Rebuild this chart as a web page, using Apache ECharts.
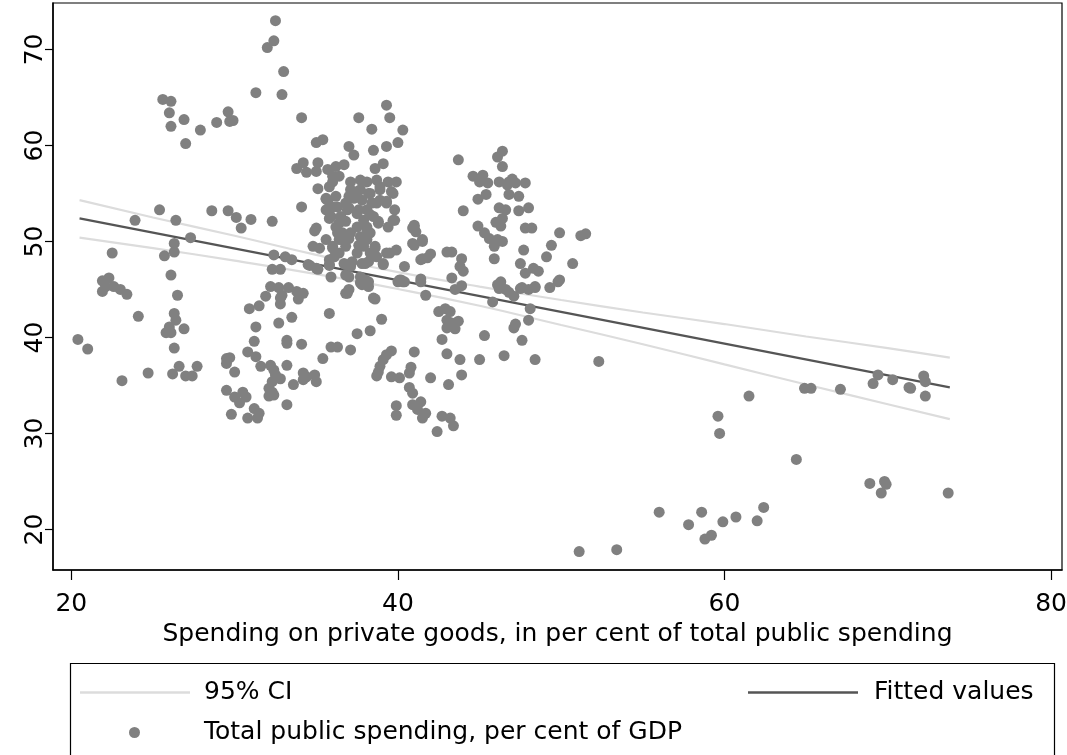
<!DOCTYPE html>
<html>
<head>
<meta charset="utf-8">
<script src="https://cdn.jsdelivr.net/npm/echarts@6/dist/echarts.min.js"></script>
<style>
html,body{margin:0;padding:0;background:#fff;}
#chart{width:1067px;height:755px;}
</style>
</head>
<body>
<div id="chart"></div>
<script>
// ---- data ----
const xTicks = [20, 40, 60, 80];
const yTicks = [20, 30, 40, 50, 60, 70];

const fitX = [20.5, 73.8];
const fitY = [52.4, 34.8];

const ciX     = [20.5, 25, 30, 35, 40, 45, 50, 55, 60, 65, 70, 73.8];
const ciUpper = [54.3, 52.5, 50.6, 48.6, 46.8, 45.3, 43.9, 42.6, 41.4, 40.1, 38.9, 37.9];
const ciLower = [50.4, 49.3, 48.0, 46.6, 45.05, 43.3, 41.3, 39.3, 37.2, 35.1, 33.05, 31.5];

const pointsLeft = [
 [20.4,39.8],[21.0,38.8],[23.1,35.5],[24.7,36.3],[24.1,42.2],[22.5,48.8],
 [21.9,45.9],[22.3,46.2],[22.1,45.3],[21.9,44.8],[22.6,45.3],[23.0,45.0],[23.4,44.5],
 [23.9,52.2],[25.4,53.3],[26.4,52.2],[27.3,50.4],[26.3,49.8],[26.3,48.9],[25.7,48.5],
 [26.1,46.5],[26.5,44.4],[26.3,42.5],[26.4,41.8],[25.8,40.5],[26.1,40.5],[26.0,41.1],[26.9,40.9],
 [26.3,38.9],[26.6,37.0],[26.2,36.2],[27.0,36.0],[27.4,36.0],[27.7,37.0]
];
const pointsHigh = [
 [25.6,64.8],[26.1,64.6],[26.0,63.4],[26.1,62.0],[26.9,62.7],[27.0,60.2],[27.9,61.6],[28.9,62.4],
 [29.6,63.5],[29.7,62.5],[29.9,62.6],[31.3,65.5],[32.0,70.2],[32.4,70.9],[32.5,73.0],[33.0,67.7],
 [32.9,65.3],[34.1,62.9],[35.0,60.3],[35.4,60.6]
];
const pointsMidLeft = [
 [28.6,53.2],[29.6,53.2],[30.1,52.5],[30.4,51.4],[31.0,52.3],[32.3,52.1],[34.1,53.6],[34.9,51.1],
 [32.4,48.6],[33.1,48.4],[33.5,48.1],[32.3,47.1],[32.8,47.1],[34.6,47.5],[35.1,47.1],[35.8,47.5],
 [32.2,45.3],[32.7,45.2],[33.3,45.2],[33.8,44.8],[34.2,44.6],[31.9,44.3],[32.9,44.4],[32.8,44.1],
 [32.8,43.5],[33.9,44.0]
];
const pointsLowLeft = [
 [30.9,43.0],[31.5,43.3],[31.3,41.1],[32.7,41.5],[33.5,42.1],[35.8,42.5],[35.9,39.0],[36.3,39.0],
 [31.2,39.6],[33.2,39.7],[33.2,39.4],[34.1,39.3],[35.4,37.8],
 [29.5,37.8],[29.7,37.9],[29.5,37.3],[30.8,38.5],[31.3,38.0],[30.0,36.4],[31.6,37.0],[32.2,37.1],
 [32.4,36.6],[32.5,36.1],[32.8,35.7],[32.3,35.4],[33.2,37.1],
 [34.2,36.3],[34.4,35.9],[34.2,35.6],[34.9,36.1],[35.0,35.4],
 [32.1,34.7],[32.3,34.3],[32.1,33.9],[32.4,34.0],[33.6,35.1],
 [29.5,34.5],[30.0,33.8],[30.5,34.3],[30.7,33.8],[30.3,33.2],[29.8,32.0],[30.8,31.6],[31.2,32.6],
 [31.5,32.1],[31.4,31.6],[33.2,33.0]
];
const pointsCluster = [
 [33.8,57.6],[34.2,58.2],[35.1,58.2],[34.4,57.2],[35.1,55.5],[35.6,54.4],
 [39.3,64.2],[39.5,62.9],[37.6,62.9],[38.4,61.7],[40.3,61.6],[40.0,60.3],[39.3,59.9],[38.5,59.5],
 [37.0,59.9],[37.3,59.0],[39.1,58.1],[38.6,57.6],
 [35.7,57.5],[36.2,57.8],[36.7,58.0],[36.0,56.8],[35.8,55.7],[35.7,54.3],[35.6,53.3],[35.9,52.6],
 [36.2,51.5],[36.6,50.9],[36.8,49.5],[36.4,48.8],[36.7,47.7],[37.1,47.4],[37.0,46.3],[36.9,44.6],
 [36.0,49.5],[35.2,49.3],[34.8,49.5],[35.6,50.2],[36.1,48.4],
 [37.1,56.2],[37.7,56.4],[38.1,56.2],[38.7,56.4],[39.4,56.2],[39.9,56.2],[38.9,55.7],[38.3,55.0],
 [37.5,55.2],[37.0,54.7],[37.8,54.3],[38.4,54.0],[38.9,54.3],[39.3,54.0],[39.7,55.0],[39.8,53.3],
 [36.9,53.3],[37.5,52.9],[38.1,53.3],[38.5,52.6],[37.9,52.2],[37.5,51.5],[38.1,51.2],[38.8,51.9],
 [39.4,51.5],[39.8,52.2],[38.3,50.9],[37.7,50.5],[37.9,49.5],[38.6,49.5],[37.5,48.8],[38.3,48.8],
 [38.0,47.7],[38.7,48.4],[39.5,48.8],[39.9,49.1],[39.1,47.7],[37.7,46.3],[38.2,45.8],[37.8,45.5],
 [35.8,48.1],[38.5,44.1],
 [36.3,53.6],[36.5,52.6],[36.8,52.1],[36.3,50.9],[37.1,50.9],[36.4,50.2],
 [35.0,57.3],[36.4,56.8],[36.0,56.2],
 [37.7,55.4],[37.1,55.4],[38.2,55.0],[38.9,55.4],[39.6,55.2],[35.6,54.5],[36.2,54.7],[36.8,54.0],
 [37.3,54.5],[38.7,54.0],[39.3,54.2],[36.0,53.6],[35.8,52.4],[37.0,53.5],[37.6,53.3],[38.3,52.8],
 [38.8,52.1],[39.7,52.2],[41.0,51.7],[35.0,51.4],[36.4,51.9],[38.1,51.5],
 [36.0,49.3],[36.6,50.2],[37.0,50.3],[37.6,49.6],[38.1,50.2],[38.6,49.3],[39.3,48.8],
 [40.9,51.4],[41.0,49.6],[41.5,50.2],[41.8,48.3],[41.4,48.1],
 [34.5,47.6],[35.0,47.2],[35.8,47.6],[35.9,46.3],[36.8,47.6],[36.8,46.5],[37.2,47.9],[37.8,47.7],
 [38.2,47.9],[39.1,47.6],[37.7,45.7],[38.0,46.0],[38.2,45.3],[40.4,47.4],[40.1,46.0],[40.4,45.8],
 [41.4,46.1],[41.7,44.4]
];
const pointsMidLow = [
 [37.1,38.7],[37.5,40.4],[38.3,40.7],[39.0,41.9],[36.8,44.6],[37.0,45.0],[38.6,44.0],[40.0,45.8],
 [40.3,45.8],[41.4,45.8],
 [42.5,42.7],[42.9,43.0],[43.2,42.7],[43.0,41.8],[43.3,41.5],[43.7,41.7],[43.0,41.0],[43.5,40.9],
 [42.7,39.8],[41.0,38.5],[43.0,38.3],[43.8,37.7],[43.9,36.1],[43.1,35.1],[42.0,35.8],
 [39.6,38.6],[39.3,38.2],[39.1,37.7],[38.9,37.0],[38.8,36.4],[38.7,36.0],[39.6,35.9],[40.1,35.8],
 [40.8,36.9],[40.7,36.3],[40.7,34.8],[40.9,34.2],[39.9,32.9],[39.9,31.9],[40.9,33.0],[41.4,33.3],
 [41.2,32.5],[41.7,32.1],[41.5,31.6],[42.7,31.8],[43.2,31.6],[43.4,30.8],[42.4,30.2],
 [41.0,51.5],[41.1,51.0],[40.9,49.8],[41.5,50.0],[41.5,48.2],[42.0,48.7],[40.2,46.0],
 [43.0,48.9],[43.3,48.9],[43.9,48.2],[43.8,47.4],[44.0,46.9],[43.3,46.2],[43.9,45.4],[43.5,45.0]
];
const pointsRightCluster = [
 [43.7,58.5],[44.0,53.2],[44.6,56.8],[45.2,56.9],[45.5,56.1],[45.0,56.2],[44.9,54.4],[45.4,54.9],
 [46.1,58.8],[46.4,59.4],[46.4,57.8],[46.2,56.2],[46.8,56.2],[47.2,56.1],[47.8,56.1],[46.8,54.9],
 [47.4,54.7],[47.0,56.5],[46.7,55.9],
 [46.2,53.5],[46.6,53.3],[47.4,53.2],[48.0,53.5],[46.0,52.0],[46.4,52.4],[46.3,51.6],[47.8,51.4],
 [48.2,51.4],
 [44.9,51.6],[45.3,50.9],[45.6,50.3],[46.1,50.2],[46.4,50.0],[45.9,49.5],[45.9,48.2],[47.7,49.1],
 [47.5,47.7],[47.8,46.7],[48.3,47.2],[48.6,46.9],[49.1,48.4],[49.4,49.6],[49.9,50.9],[46.3,45.8],
 [46.2,45.1],[46.8,44.7],[48.4,45.3],[49.3,45.2],[49.9,46.0],[50.7,47.7],[51.2,50.6],[51.5,50.8],
 [47.6,45.2],[48.0,45.0],
 [45.8,43.7],[45.3,40.2],[46.5,38.1],[45.0,37.7],[46.1,45.5],[46.6,45.0],[47.1,44.3],[47.5,45.1],
 [48.4,45.2],[49.8,45.8],[48.1,43.0],[48.0,41.8],[47.2,41.4],[47.1,41.0],[47.6,39.7],[48.4,37.7],
 [52.3,37.5]
];
const pointsFarRight = [
 [61.5,33.9],[59.6,31.8],[59.7,30.0],[64.4,27.3],[64.9,34.7],[65.3,34.7],[67.1,34.6],[69.1,35.2],
 [69.4,36.1],[70.3,35.6],[71.4,34.7],[71.3,34.8],[72.2,36.0],[72.3,35.4],[72.3,33.9],[68.9,24.8],
 [69.8,25.0],[69.9,24.7],[69.6,23.8],[73.7,23.8],[56.0,21.8],[57.8,20.5],[58.6,21.8],[58.8,19.0],
 [59.2,19.4],[59.9,20.8],[60.7,21.3],[62.0,20.9],[62.4,22.3],[51.1,17.7],[53.4,17.9]
];

// ---- build series ----
const allPoints = [].concat(pointsLeft, pointsHigh, pointsMidLeft, pointsLowLeft,
  pointsCluster, pointsMidLow, pointsRightCluster, pointsFarRight);
const upperData = ciX.map((x, i) => [x, ciUpper[i]]);
const lowerData = ciX.map((x, i) => [x, ciLower[i]]);
const fitData = fitX.map((x, i) => [x, fitY[i]]);

const FONT = "'DejaVu Sans', 'Liberation Sans', Arial, sans-serif";
const FS = 25;
const NAME_CI = '95% CI';
const NAME_FIT = 'Fitted values';
const NAME_PTS = 'Total public spending, per cent of GDP';

const chart = echarts.init(document.getElementById('chart'), null, {renderer: 'canvas'});
chart.setOption({
  animation: false,
  backgroundColor: '#ffffff',
  textStyle: {fontFamily: FONT},
  grid: {
    left: 53, right: 5, top: 3, bottom: 185,
    containLabel: false, outerBoundsMode: 'none',
    show: true, borderColor: '#000', borderWidth: 1.2, backgroundColor: '#fff'
  },
  xAxis: {
    type: 'value', min: 18.875, max: 80.67,
    splitLine: {show: false},
    axisLine: {onZero: false, lineStyle: {color: '#000', width: 1.5}},
    axisTick: {show: true, length: 10, lineStyle: {color: '#000', width: 1.2}, customValues: xTicks},
    axisLabel: {customValues: xTicks, color: '#000', fontSize: FS, fontFamily: FONT, margin: 22},
    name: 'Spending on private goods, in per cent of total public spending',
    nameLocation: 'middle', nameGap: 49,
    nameTextStyle: {color: '#000', fontSize: FS, fontFamily: FONT}
  },
  yAxis: {
    type: 'value', min: 15.78, max: 74.84,
    splitLine: {show: false},
    axisLine: {onZero: false, lineStyle: {color: '#000', width: 1.5}},
    axisTick: {show: true, length: 8, lineStyle: {color: '#000', width: 1.2}, customValues: yTicks},
    axisLabel: {customValues: yTicks, color: '#000', fontSize: FS, fontFamily: FONT, rotate: 90, margin: 5}
  },
  legend: [
    {data: [{name: NAME_CI, icon: 'rect'}], left: 80, top: 680, padding: 0, itemWidth: 110, itemHeight: 2.5,
     textStyle: {fontSize: FS, fontFamily: FONT, color: '#000', padding: [0, 0, 0, 9]}},
    {data: [{name: NAME_FIT, icon: 'rect'}], left: 748, top: 680, padding: 0, itemWidth: 110, itemHeight: 2.5,
     textStyle: {fontSize: FS, fontFamily: FONT, color: '#000', padding: [0, 0, 0, 11]}},
    {data: [{name: NAME_PTS, icon: 'circle'}], left: 129, top: 720, padding: 0, itemWidth: 11, itemHeight: 11,
     textStyle: {fontSize: FS, fontFamily: FONT, color: '#000', padding: [0, 0, 0, 59]}}
  ],
  graphic: [
    {type: 'rect', left: 68, top: 661, shape: {width: 984, height: 92},
     style: {fill: 'none', stroke: '#000', lineWidth: 1.2}, silent: true}
  ],
  series: [
    {name: NAME_CI, type: 'line', data: upperData, smooth: true, symbol: 'none',
     lineStyle: {color: '#dcdcdc', width: 2.2}, itemStyle: {color: '#dcdcdc'}, z: 1},
    {name: NAME_CI, type: 'line', data: lowerData, smooth: true, symbol: 'none',
     lineStyle: {color: '#dcdcdc', width: 2.2}, itemStyle: {color: '#dcdcdc'}, z: 1},
    {name: NAME_FIT, type: 'line', data: fitData, symbol: 'none',
     lineStyle: {color: '#555555', width: 2.2}, itemStyle: {color: '#555555'}, z: 2},
    {name: NAME_PTS, type: 'scatter', data: allPoints, symbol: 'circle', symbolSize: 11,
     itemStyle: {color: '#808080', opacity: 1}, z: 3}
  ]
});
</script>
</body>
</html>
